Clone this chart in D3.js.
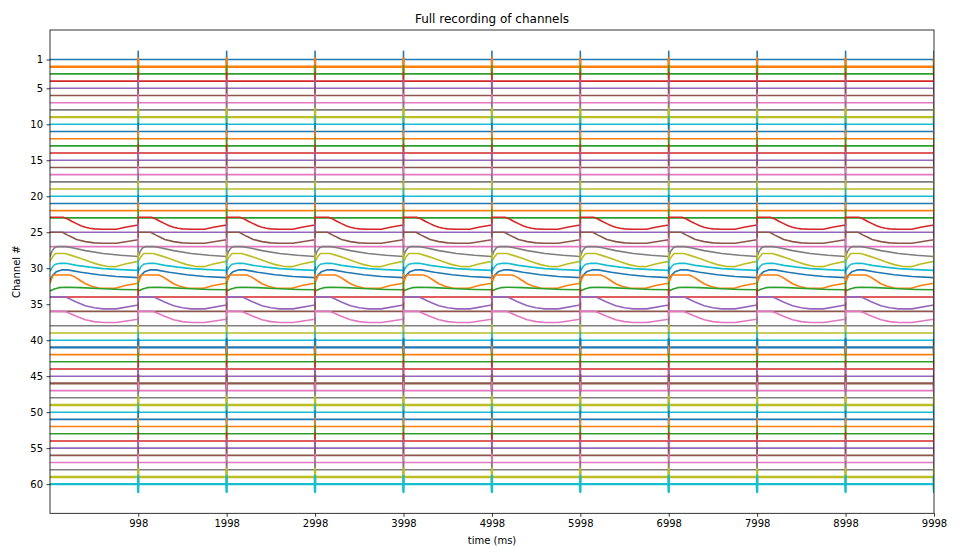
<!DOCTYPE html>
<html>
<head>
<meta charset="utf-8">
<script src="https://cdn.jsdelivr.net/npm/d3@7"></script>
<style>
  body { margin: 0; background: #fff; }
  svg { display: block; font-family: "DejaVu Sans", sans-serif; }
</style>
</head>
<body>
<svg id="chart" width="960" height="560"></svg>
<script>
// ---------------- DATA ----------------
const channels = [1,2,3,4,5,6,7,8,9,10,11,12,13,14,15,16,17,18,19,20,
  21,22,23,24,25,26,27,28,29,30,31,32,33,34,35,36,37,38,39,40,
  41,42,43,44,45,46,47,48,49,50,51,52,53,54,55,56,57,58,59,60];
const yTicks = [1,5,10,15,20,25,30,35,40,45,50,55,60];
const xTicks = [998,1998,2998,3998,4998,5998,6998,7998,8998,9998];
const stimTimes = [998,1998,2998,3998,4998,5998,6998,7998,8998,9998];
const periodStarts = [0,998,1998,2998,3998,4998,5998,6998,7998,8998];
// stimulus artifact extent, in channel units (down / up)
const spikeDown = 1.1;
const spikeUp = -1.15;
// post-stimulus responses: [ms after stimulus, offset in channel units]
const flat = [[0,0],[996,0]];
const ch24 = [[0,-1.08],[150,-1.08],[200,-0.85],[250,-0.5],[300,-0.2],[350,0.1],[400,0.3],[450,0.45],[500,0.53],[600,0.58],[750,0.58],[850,0.3],[996,0.0]];
const ch26 = [[0,-1.0],[140,-1.0],[200,-0.6],[250,-0.3],[300,0.0],[400,0.3],[500,0.48],[600,0.53],[750,0.53],[996,0.05]];
const ch28 = [[0,0.4],[20,-0.3],[50,-0.85],[80,-1.0],[180,-1.0],[250,-0.85],[400,-0.45],[600,-0.05],[800,0.2],[996,0.38]];
const ch29 = [[0,0.05],[30,-0.6],[60,-1.05],[170,-1.05],[250,-0.75],[350,-0.35],[450,0.1],[550,0.5],[650,0.75],[740,0.78],[850,0.4],[996,0.05]];
const ch30 = [[0,0.45],[30,-0.2],[60,-0.55],[120,-0.7],[180,-0.68],[300,-0.4],[450,-0.15],[600,0.05],[800,0.2],[996,0.3]];
const ch31 = [[0,0.6],[30,0.0],[70,-0.5],[130,-0.77],[200,-0.77],[350,-0.45],[550,-0.1],[750,0.15],[996,0.3]];
const ch32 = [[0,0.1],[20,-0.6],[40,-1.07],[230,-1.07],[280,-0.8],[330,-0.4],[400,0.15],[470,0.5],[550,0.75],[740,0.78],[850,0.4],[996,0.08]];
const ch33 = [[0,0.15],[50,-0.1],[100,-0.3],[180,-0.36],[350,-0.3],[600,-0.15],[800,-0.05],[996,0.0]];
const ch35 = [[0,-1.02],[170,-1.02],[220,-0.75],[290,-0.35],[400,0.2],[500,0.5],[600,0.65],[750,0.65],[996,0.1]];
const ch37 = [[0,-1.0],[170,-1.0],[220,-0.75],[290,-0.35],[400,0.15],[500,0.42],[600,0.55],[750,0.55],[996,0.1]];
const responses = {24: ch24, 26: ch26, 28: ch28, 29: ch29, 30: ch30, 31: ch31, 32: ch32, 33: ch33, 35: ch35, 37: ch37};

// ---------------- STYLE ----------------
const colors = ["#1f77b4","#ff7f0e","#2ca02c","#d62728","#9467bd","#8c564b","#e377c2","#7f7f7f","#bcbd22","#17becf"];
const thickChannels = [2, 9, 41, 46, 49, 59, 60];

const W = 960, H = 560;
const M = {left: 50, right: 934, top: 30, bottom: 513.3};

const svg = d3.select("#chart");
const x = d3.scaleLinear().domain([0, 9998]).range([M.left, M.right]);
const y = d3.scaleLinear().domain([-3.1, 64.05]).range([M.top, M.bottom]);

function series(c) {
  const tpl = responses[c] || flat;
  const pts = [];
  periodStarts.forEach((s, i) => {
    tpl.forEach(([dt, v]) => pts.push([s + dt, c + v]));
    const T = stimTimes[i];
    pts.push([T, c + spikeDown]);
    pts.push([T, c + spikeUp]);
  });
  pts.push([stimTimes[stimTimes.length - 1], c + tpl[0][1]]);
  return pts;
}

svg.append("defs").append("clipPath").attr("id", "clip")
  .append("rect").attr("x", M.left).attr("y", M.top)
  .attr("width", M.right - M.left).attr("height", M.bottom - M.top);

const line = d3.line().x(d => x(d[0])).y(d => y(d[1]));
const g = svg.append("g").attr("clip-path", "url(#clip)");
channels.forEach((c, i) => {
  g.append("path")
    .attr("d", line(series(c)))
    .attr("fill", "none")
    .attr("stroke", colors[i % 10])
    .attr("stroke-width", thickChannels.includes(c) ? 2.4 : 1.6)
    .attr("stroke-linejoin", "round");
});

// axes
const xAxis = d3.axisBottom(x).tickValues(xTicks).tickSize(3.5).tickPadding(3.5).tickFormat(d3.format("d"));
const yAxis = d3.axisLeft(y).tickValues(yTicks).tickSize(3.5).tickPadding(3.5).tickFormat(d3.format("d"));
const gx = svg.append("g").attr("transform", `translate(0,${M.bottom})`).call(xAxis);
const gy = svg.append("g").attr("transform", `translate(${M.left},0)`).call(yAxis);
[gx, gy].forEach(a => {
  a.select(".domain").remove();
  a.selectAll("line").attr("stroke", "#000").attr("stroke-width", 0.8);
  a.selectAll("text").attr("font-family", "DejaVu Sans").attr("font-size", 10).attr("fill", "#000");
});

// frame
svg.append("rect").attr("x", M.left).attr("y", M.top)
  .attr("width", M.right - M.left).attr("height", M.bottom - M.top)
  .attr("fill", "none").attr("stroke", "#000").attr("stroke-width", 0.8);

svg.append("text").attr("x", (M.left + M.right) / 2).attr("y", 22.5)
  .attr("text-anchor", "middle").attr("font-size", 12).text("Full recording of channels");
svg.append("text").attr("x", (M.left + M.right) / 2).attr("y", 544)
  .attr("text-anchor", "middle").attr("font-size", 10).text("time (ms)");
svg.append("text").attr("transform", `translate(20,${(M.top + M.bottom) / 2}) rotate(-90)`)
  .attr("text-anchor", "middle").attr("font-size", 10).text("Channel #");
</script>
</body>
</html>
